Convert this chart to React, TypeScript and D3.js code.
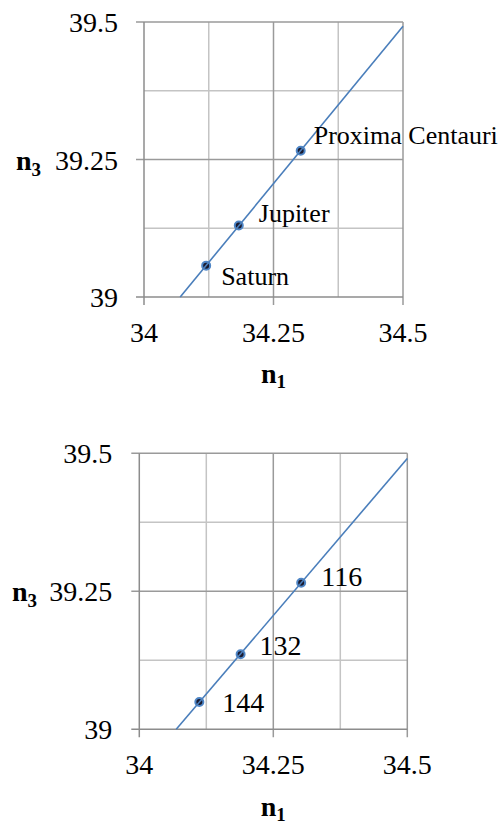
import React from "react";
import * as d3 from "d3";

// ---- data ----
const xTicks = [34, 34.25, 34.5];
const yTicks = [39, 39.25, 39.5];
const xMinor = [34.125, 34.375];
const yMinor = [39.125, 39.375];

const topNames = ["Saturn", "Jupiter", "Proxima Centauri"];
const topN1 = [34.12, 34.183, 34.3025];
const topN3 = [39.057, 39.13, 39.266];

const bottomNames = ["144", "132", "116"];
const bottomN1 = [34.112, 34.189, 34.302];
const bottomN3 = [39.0495, 39.136, 39.2656];

// ---- layout ----
const panels = [
  {
    names: topNames, xs: topN1, ys: topN3,
    left: 144, right: 403, top: 22, bottom: 297,
    labelSize: 26,
    labelOffsets: [[15, 19], [20, -4], [13, -7]],
    yLabelGap: 26, xTitleY: 383, yTitleX: 16,
  },
  {
    names: bottomNames, xs: bottomN1, ys: bottomN3,
    left: 139.3, right: 407.3, top: 453.3, bottom: 729.3,
    labelSize: 28,
    labelOffsets: [[23, 10], [19, 1], [20, 3]],
    yLabelGap: 27, xTitleY: 816, yTitleX: 12,
  },
];

const FONT = "Liberation Serif, Tinos, Times New Roman, DejaVu Serif, serif";

function Panel({ p }: { p: (typeof panels)[number] }) {
  const x = d3.scaleLinear().domain([34, 34.5]).range([p.left, p.right]);
  const y = d3.scaleLinear().domain([39, 39.5]).range([p.bottom, p.top]);
  const pts = p.xs.map((v, i) => [v, p.ys[i]] as [number, number]);
  const mx = d3.mean(p.xs)!;
  const my = d3.mean(p.ys)!;
  const sxy = d3.sum(pts, (d) => (d[0] - mx) * (d[1] - my));
  const sxx = d3.sum(pts, (d) => (d[0] - mx) ** 2);
  const slope = sxy / sxx;
  const x0 = mx + (39 - my) / slope;
  const x1 = 34.5;
  const trend: [number, number][] = [
    [x0, 39],
    [x1, my + (x1 - mx) * slope],
  ];
  const line = d3
    .line<[number, number]>()
    .x((d) => x(d[0]))
    .y((d) => y(d[1]));
  const cx = (p.left + p.right) / 2;
  const ts = { fontFamily: FONT };
  return (
    <g>
      {xMinor.map((v) => (
        <line key={"xm" + v} x1={x(v)} x2={x(v)} y1={p.top} y2={p.bottom} stroke="#c4c4c4" strokeWidth={1.5} />
      ))}
      {yMinor.map((v) => (
        <line key={"ym" + v} x1={p.left} x2={p.right} y1={y(v)} y2={y(v)} stroke="#c4c4c4" strokeWidth={1.5} />
      ))}
      {xTicks.slice(1).map((v) => (
        <line key={"xg" + v} x1={x(v)} x2={x(v)} y1={p.top} y2={p.bottom + 8} stroke="#9a9a9a" strokeWidth={1.5} />
      ))}
      {yTicks.slice(1).map((v) => (
        <line key={"yg" + v} x1={p.left - 8} x2={p.right} y1={y(v)} y2={y(v)} stroke="#9a9a9a" strokeWidth={1.5} />
      ))}
      {/* axes */}
      <line x1={p.left} x2={p.left} y1={p.top} y2={p.bottom + 8} stroke="#8c8c8c" strokeWidth={1.5} />
      <line x1={p.left - 8} x2={p.right} y1={p.bottom} y2={p.bottom} stroke="#8c8c8c" strokeWidth={1.5} />
      {/* tick labels */}
      {xTicks.map((v) => (
        <text key={"xl" + v} x={x(v)} y={p.bottom + 45} textAnchor="middle" fontSize={28} style={ts} fill="#000">
          {String(v)}
        </text>
      ))}
      {yTicks.map((v) => (
        <text key={"yl" + v} x={p.left - p.yLabelGap} y={y(v) + 10} textAnchor="end" fontSize={28} style={ts} fill="#000">
          {String(v)}
        </text>
      ))}
      {/* axis titles */}
      <text x={cx} y={p.xTitleY} textAnchor="middle" style={ts} fontWeight="bold" fontSize={28} fill="#000">
        n<tspan fontSize={19} dy={5}>1</tspan>
      </text>
      <text x={p.yTitleX} y={y(39.25) + 10} style={ts} fontWeight="bold" fontSize={28} fill="#000">
        n<tspan fontSize={19} dy={6}>3</tspan>
      </text>
      {/* markers */}
      {pts.map((d, i) => (
        <circle key={"c" + i} cx={x(d[0])} cy={y(d[1])} r={4} fill="#1a1a2e" stroke="#4f86c6" strokeWidth={2} />
      ))}
      {/* trend line */}
      <path d={line(trend)!} fill="none" stroke="#4a7ebb" strokeWidth={1.6} />
      {/* labels */}
      {pts.map((d, i) => (
        <text
          key={"t" + i}
          x={x(d[0]) + p.labelOffsets[i][0]}
          y={y(d[1]) + p.labelOffsets[i][1]}
          fontSize={p.labelSize}
          style={ts}
          fill="#000"
        >
          {p.names[i]}
        </text>
      ))}
    </g>
  );
}

export default function App() {
  return (
    <svg
      width={502}
      height={825}
      style={{ position: "absolute", left: 0, top: 0, background: "#fff" }}
    >
      <rect width={502} height={825} fill="#fff" />
      {panels.map((p, i) => (
        <Panel key={i} p={p} />
      ))}
    </svg>
  );
}
